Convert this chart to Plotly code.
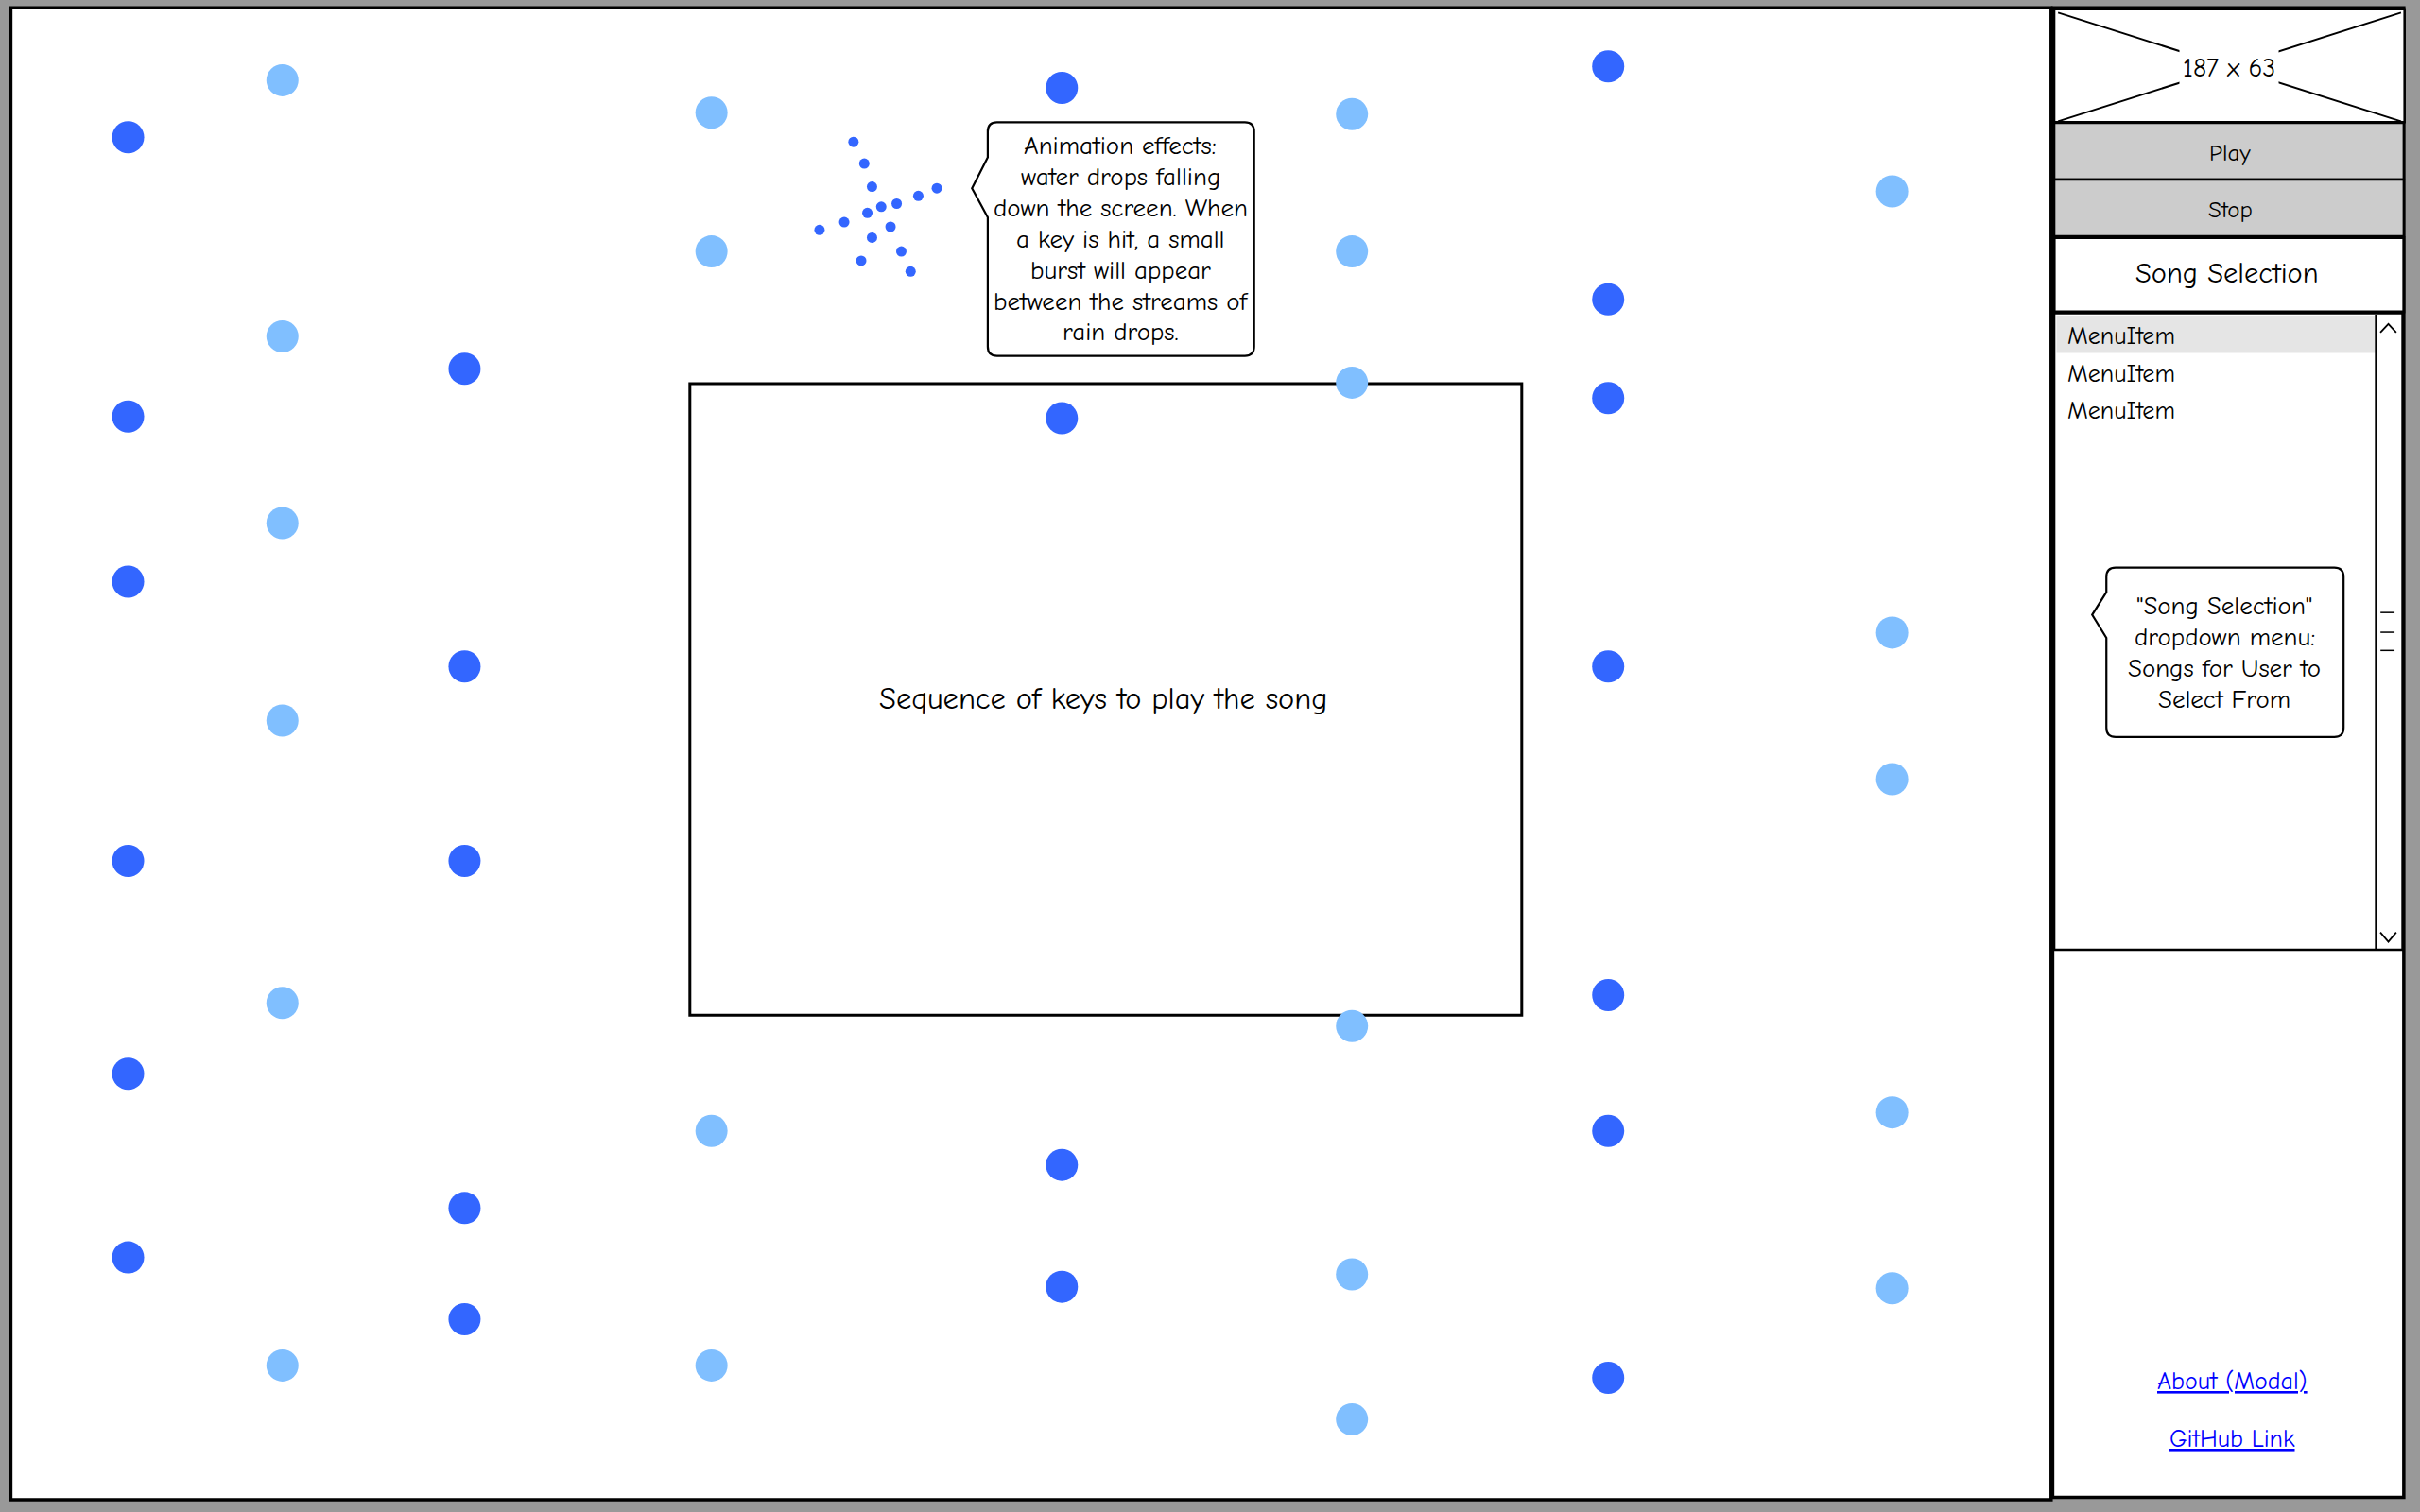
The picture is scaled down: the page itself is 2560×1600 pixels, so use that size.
import plotly.graph_objects as go

# rain drop streams (x of stream, y of each drop) in mockup pixel units
dark_x = [83, 301, 688, 1042]
dark_y = [
    [89, 270, 377, 558, 696, 815],
    [239, 432, 558, 783, 855],
    [57, 271, 755, 834],
    [43, 194, 258, 432, 645, 733, 893],
]
light_x = [183, 461, 876, 1226]
light_y = [
    [52, 218, 339, 467, 650, 885],
    [73, 163, 733, 885],
    [74, 163, 248, 665, 826, 920],
    [124, 410, 505, 721, 835],
]

# the little burst next to the callout
burst_x = [553, 560, 565, 607, 595, 581, 571, 562, 547, 531, 577, 565, 584, 558, 590]
burst_y = [92, 106, 121, 122, 127, 132, 134, 138, 144, 149, 147, 154, 163, 169, 176]

note1_lines = ["Animation effects:", "water drops falling", "down the screen. When",
               "a key is hit, a small", "burst will appear",
               "between the streams of", "rain drops."]
note2_lines = ['"Song Selection"', "dropdown menu:", "Songs for User to", "Select From"]
menu_items = ["MenuItem", "MenuItem", "MenuItem"]

FONT = "Comic Sans MS, Comic Neue, Open Sans, sans-serif"
DARK = "#3366ff"
LIGHT = "#80bfff"


def flat(xs, ys):
    px, py = [], []
    for x, col in zip(xs, ys):
        px += [x] * len(col)
        py += col
    return px, py


def callout(x0, y0, x1, y1, pa, tip, pb, r=6):
    return (f"M {x0+r},{y0} L {x1-r},{y0} Q {x1},{y0} {x1},{y0+r} "
            f"L {x1},{y1-r} Q {x1},{y1} {x1-r},{y1} L {x0+r},{y1} "
            f"Q {x0},{y1} {x0},{y1-r} L {x0},{pb} L {tip[0]},{tip[1]} "
            f"L {x0},{pa} L {x0},{y0+r} Q {x0},{y0} {x0+r},{y0} Z")


fig = go.Figure()

dx, dy = flat(dark_x, dark_y)
lx, ly = flat(light_x, light_y)
fig.add_trace(go.Scatter(x=dx, y=dy, mode="markers",
                         marker=dict(size=34, color=DARK), hoverinfo="skip"))
fig.add_trace(go.Scatter(x=lx, y=ly, mode="markers",
                         marker=dict(size=34, color=LIGHT), hoverinfo="skip"))
fig.add_trace(go.Scatter(x=burst_x, y=burst_y, mode="markers",
                         marker=dict(size=11, color=DARK), hoverinfo="skip"))

shapes = []


def rect(x0, y0, x1, y1, fill="white", w=2.5):
    shapes.append(dict(type="rect", x0=x0, y0=y0, x1=x1, y1=y1, fillcolor=fill,
                       line=dict(color="black", width=w), layer="below"))


def line(x0, y0, x1, y1, w=2):
    shapes.append(dict(type="line", x0=x0, y0=y0, x1=x1, y1=y1,
                       line=dict(color="black", width=w), layer="below"))


# main canvas + sidebar
rect(7, 5, 1329, 972, w=3.5)
rect(1330, 5, 1557.5, 970.5, w=3.5)
# central keys box
rect(447, 248.6, 986, 658, fill="rgba(0,0,0,0)", w=3)
# image placeholder
rect(1331, 6, 1558, 79.2, w=2.5)
line(1333.5, 8.2, 1555.7, 78.6)
line(1555.7, 8.2, 1333.5, 78.6)
# buttons
rect(1331, 79.6, 1557.5, 116.4, fill="#cccccc", w=2.5)
rect(1331, 116.4, 1557.5, 153.1, fill="#cccccc", w=2.5)
rect(1331, 154.1, 1557.5, 202.1, w=3)
# dropdown list
rect(1331, 203, 1556.7, 615.6, w=2.5)
shapes.append(dict(type="rect", x0=1332.5, y0=204.5, x1=1539.4, y1=228.7,
                   fillcolor="#e5e5e5", line=dict(width=0), layer="below"))
line(1539.4, 204, 1539.4, 615)
shapes.append(dict(type="path", path="M 1542.3,215.5 L 1547.5,210 L 1552.6,215.5",
                   line=dict(color="black", width=1.8), layer="below"))
shapes.append(dict(type="path", path="M 1542.3,604.3 L 1547.5,610.4 L 1552.6,604.3",
                   line=dict(color="black", width=1.8), layer="below"))
for ty in [397, 409.8, 421.6]:
    line(1542.4, ty, 1551.5, ty, w=1.5)
# callouts
shapes.append(dict(type="path", path=callout(640, 79.2, 812.6, 230.7, 102, (629.8, 122), 140.9),
                   fillcolor="white", line=dict(color="black", width=2.2), layer="below"))
shapes.append(dict(type="path", path=callout(1364.8, 367.9, 1518.5, 477.7, 383.8, (1355.6, 398.5), 413.4),
                   fillcolor="white", line=dict(color="black", width=2.2), layer="below"))

ann = []


def text(x, y, s, size=24, color="black", anchor="center", **kw):
    ann.append(dict(x=x, y=y, text=s, showarrow=False, xanchor=anchor, yanchor="middle",
                    font=dict(family=FONT, size=size, color=color, **kw)))


for i, s in enumerate(note1_lines):
    text(726, 94.9 + i * 20.1, s, size=27)
for i, s in enumerate(note2_lines):
    text(1441.4, 393 + i * 20.2, s, size=27)
for i, s in enumerate(menu_items):
    text(1338.3, 218 + i * 24.3, s, size=26, anchor="left")

text(715, 453, "Sequence of keys to play the song", size=32.5)
text(1445, 99, "Play", size=25)
text(1445, 135.8, "Stop", size=25)
text(1443, 177.6, "Song Selection", size=30.5)
text(1446.5, 895.3, "About (Modal)", size=26, color="#0000ff", lineposition="under")
text(1446.5, 933, "GitHub Link", size=26, color="#0000ff", lineposition="under")
ann.append(dict(x=1444, y=43.9, text="187 x 63", showarrow=False, bgcolor="white",
                borderpad=3, font=dict(family=FONT, size=27.5, color="black")))

fig.update_layout(
    width=2560, height=1600,
    margin=dict(l=0, r=0, t=0, b=0),
    paper_bgcolor="#999999", plot_bgcolor="#999999",
    showlegend=False,
    shapes=shapes, annotations=ann,
    xaxis=dict(range=[0, 1568], visible=False, fixedrange=True),
    yaxis=dict(range=[980, 0], visible=False, fixedrange=True),
)

# page margin would push the figure 8px right/down
fig.write_html("out.html", config={"displayModeBar": False},
               post_script="document.body.style.margin='0';")
